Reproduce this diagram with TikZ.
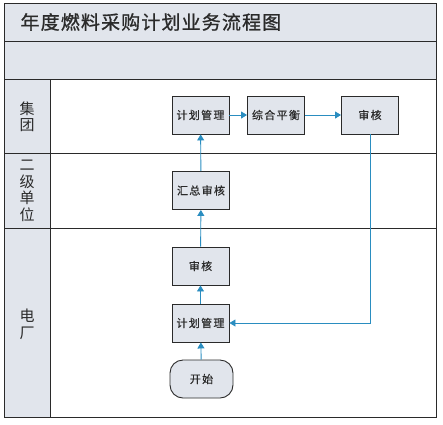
\documentclass[tikz,border=0pt]{standalone}
\usepackage{fontspec}
\setmainfont{Noto Sans CJK SC}
\usetikzlibrary{arrows.meta}
\definecolor{panel}{HTML}{E1E5EC}
\definecolor{flow}{HTML}{2A8DC0}
\definecolor{ink}{HTML}{2A2A2A}
\tikzset{
  proc/.style={draw=ink, line width=0.9pt, fill=panel, minimum width=57pt, minimum height=38pt, inner sep=0pt, font=\fontsize{11}{12}\selectfont\addfontfeature{LetterSpace=12,FakeBold=0.5}, text=ink},
  startbox/.style={proc, minimum width=63pt, rounded corners=13pt},
  flowline/.style={draw=flow, line width=0.9pt, -{Triangle[width=7pt,length=6pt]}},
  frame/.style={draw=ink, line width=1pt},
  lanelbl/.style={font=\fontsize{15}{16.5}\selectfont, text=ink, align=center}
}
\begin{document}
\begin{tikzpicture}[x=1pt,y=-1pt]
\useasboundingbox (0,0) rectangle (443,424);
% header panels
\fill[panel] (4,3) rectangle (436,79);
\fill[panel] (4,79) rectangle (50,417);
\draw[frame] (4,3) rectangle (436,417);
\draw[frame] (4,41) -- (436,41);
\draw[frame] (4,79) -- (436,79);
\draw[frame] (50,79) -- (50,417);
\draw[frame] (4,153) -- (436,153);
\draw[frame] (4,228) -- (436,228);
\node[anchor=west, font=\fontsize{19}{20}\selectfont\addfontfeature{LetterSpace=6,FakeBold=1}, text=ink] (title) at (17,22) {年度燃料采购计划业务流程图};
% lane labels
\node[lanelbl] (l1) at (27,117) {集\\团};
\node[lanelbl] (l2) at (27,191) {二\\级\\单\\位};
\node[lanelbl] (l3) at (27,324.5) {电\\厂};
% nodes
\node[proc] (jh1) at (200.5,115) {计划管理};
\node[proc] (zh) at (276,115) {综合平衡};
\node[proc] (sh1) at (370,115) {审核};
\node[proc] (hz) at (201,190.5) {汇总审核};
\node[proc] (sh2) at (200.5,266) {审核};
\node[proc] (jh2) at (200.5,323) {计划管理};
\node[startbox] (ks) at (201.5,379) {开始};
% connectors
\draw[flowline] (ks) -- (jh2);
\draw[flowline] (jh2) -- (sh2);
\draw[flowline] (sh2) -- (hz);
\draw[flowline] (hz) -- (jh1);
\draw[flowline] (jh1) -- (zh);
\draw[flowline] (zh) -- (sh1);
\draw[flowline] (sh1.south) |- (jh2.east);
\end{tikzpicture}
\end{document}
